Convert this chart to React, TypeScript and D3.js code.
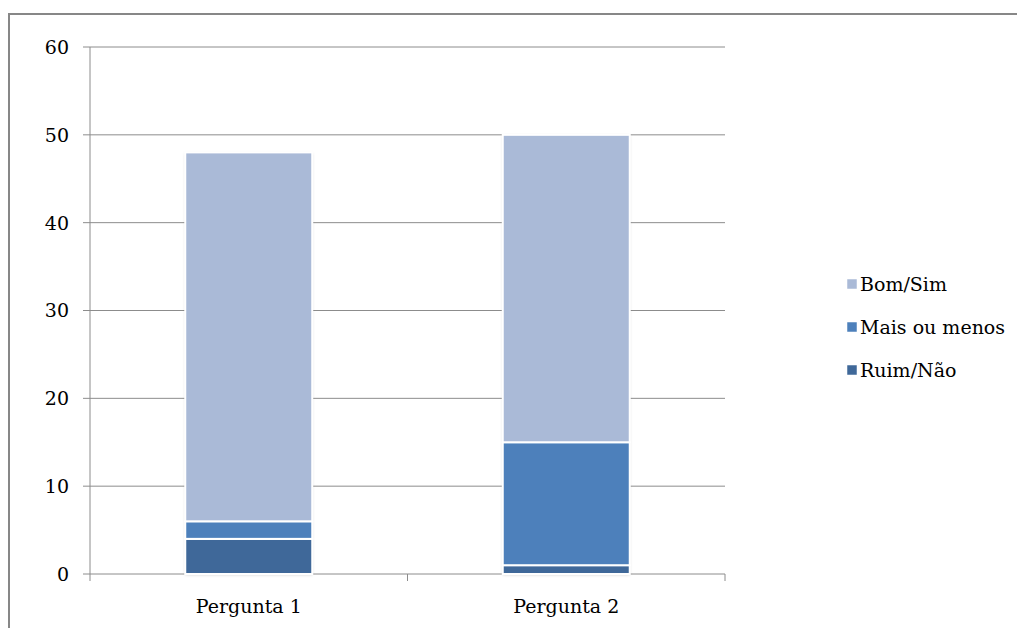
import React from "react";
import * as d3 from "d3";

const categories = ["Pergunta 1", "Pergunta 2"];
const seriesNames = ["Ruim/Não", "Mais ou menos", "Bom/Sim"];
const ruimNao = [4, 1];
const maisOuMenos = [2, 14];
const bomSim = [42, 35];
const yTicks = [0, 10, 20, 30, 40, 50, 60];
const legendOrder = ["Bom/Sim", "Mais ou menos", "Ruim/Não"];

const colors: Record<string, string> = {
  "Ruim/Não": "#3f6899",
  "Mais ou menos": "#4d80bb",
  "Bom/Sim": "#aabad7",
};

const W = 1017;
const H = 628;
const plot = { left: 90, right: 725, top: 47, bottom: 574 };
const font = "'DejaVu Serif', serif";
const fontSize = 19;

export default function App() {
  const x = d3
    .scaleBand<string>()
    .domain(categories)
    .range([plot.left, plot.right])
    .paddingInner(0.6)
    .paddingOuter(0.3);
  const y = d3.scaleLinear().domain([0, 60]).range([plot.bottom, plot.top]);

  const rows = categories.map((c, i) => ({
    cat: c,
    "Ruim/Não": ruimNao[i],
    "Mais ou menos": maisOuMenos[i],
    "Bom/Sim": bomSim[i],
  }));
  const stacked = d3.stack<any>().keys(seriesNames)(rows);

  const catStep = (plot.right - plot.left) / categories.length;
  const catEdges = d3.range(categories.length + 1).map((i) => plot.left + i * catStep);

  return (
    <svg width={W} height={H} style={{ position: "absolute", left: 0, top: 0, background: "#fff" }}>
      <defs>
        <filter id="barShadow" x="-10%" y="-10%" width="120%" height="120%">
          <feDropShadow dx="0" dy="1" stdDeviation="1.5" floodColor="#000" floodOpacity="0.18" />
        </filter>
      </defs>
      {/* chart frame */}
      <rect x={9} y={14} width={W} height={H} fill="none" stroke="#878787" strokeWidth={2} />

      {/* gridlines and y axis */}
      {yTicks.map((t) => (
        <g key={t}>
          <line x1={plot.left - 7} x2={plot.right} y1={y(t)} y2={y(t)} stroke="#8c8c8c" strokeWidth={1} />
          <text x={69} y={y(t)} dy="0.36em" textAnchor="end" fontFamily={font} fontSize={fontSize} fill="#000">
            {t}
          </text>
        </g>
      ))}
      <line x1={plot.left} x2={plot.left} y1={plot.top} y2={plot.bottom} stroke="#8c8c8c" strokeWidth={1} />
      {catEdges.map((e, i) => (
        <line key={i} x1={e} x2={e} y1={plot.bottom} y2={plot.bottom + 7} stroke="#8c8c8c" strokeWidth={1} />
      ))}

      {/* stacked bars */}
      {categories.map((c, ci) => {
        const total = stacked[stacked.length - 1][ci][1];
        return (
          <rect
            key={"sh" + c}
            x={x(c)!}
            y={y(total)}
            width={x.bandwidth()}
            height={y(0) - y(total)}
            fill="#fff"
            filter="url(#barShadow)"
          />
        );
      })}
      {stacked.map((s) =>
        s.map((d, ci) => (
          <rect
            key={s.key + ci}
            x={x(categories[ci])!}
            y={y(d[1])}
            width={x.bandwidth()}
            height={y(d[0]) - y(d[1])}
            fill={colors[s.key]}
            stroke="#fff"
            strokeWidth={2}
          />
        ))
      )}

      {/* category labels */}
      {categories.map((c) => (
        <text
          key={c}
          x={x(c)! + x.bandwidth() / 2}
          y={613}
          textAnchor="middle"
          fontFamily={font}
          fontSize={fontSize}
          fill="#000"
        >
          {c}
        </text>
      ))}

      {/* legend */}
      {legendOrder.map((name, i) => {
        const ly = 284 + i * 43;
        return (
          <g key={name}>
            <rect x={847} y={ly - 5} width={10} height={10} fill={colors[name]} stroke="#fff" strokeWidth={0.5} />
            <text x={860} y={ly} dy="0.36em" fontFamily={font} fontSize={fontSize} fill="#000">
              {name}
            </text>
          </g>
        );
      })}
    </svg>
  );
}
